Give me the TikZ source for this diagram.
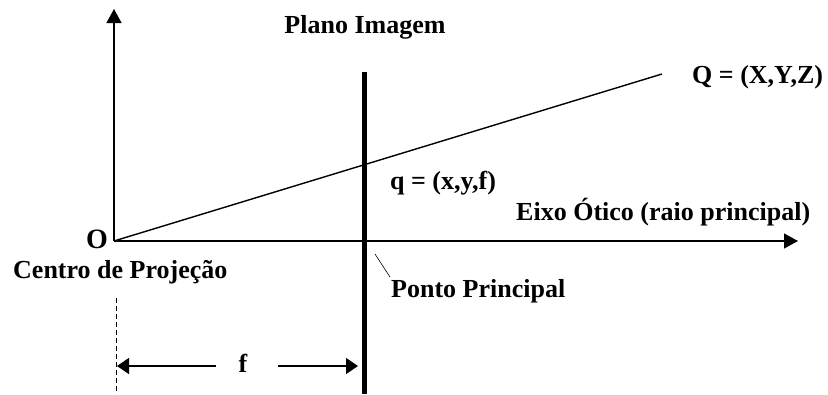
\documentclass[tikz,border=0pt]{standalone}
\usepackage{fontspec}
\setmainfont{Liberation Serif}
\usetikzlibrary{arrows.meta}
\begin{document}
\begin{tikzpicture}[x=1pt,y=-1pt,
  lbl/.style={font=\fontsize{26}{30}\selectfont\bfseries, inner sep=0pt},
  axis/.style={line width=1.3pt, -{Triangle[length=14pt,width=15pt]}},
  dim/.style={line width=1.3pt, -{Triangle[length=12pt,width=16pt]}}]
\useasboundingbox (0,0) rectangle (828,394);
\coordinate (O) at (114,241);
\coordinate (ytip) at (114,9);
\coordinate (xtip) at (798,241);
\coordinate (ptop) at (364,72);
\coordinate (pbot) at (364,394);
\coordinate (Qp) at (662,74);
\coordinate (dtop) at (116,298);
\coordinate (dbot) at (116,394);
\coordinate (ldA) at (375,254);
\coordinate (ldB) at (390,277);
% axes
\draw[axis] (O) -- (ytip);
\draw[axis] (O) -- (xtip);
% ray
\draw[line width=1.4pt] (O) -- (Qp);
% image plane
\draw[line width=5pt] (ptop) -- (pbot);
% labels
\node[lbl] (plano) at (365,27) {Plano Imagem};
\node[lbl, anchor=west] (Q) at (692,77) {Q = (X,Y,Z)};
\node[lbl, anchor=west] (q) at (390,183) {q = (x,y,f)};
\node[lbl, anchor=west] (eixo) at (516,212) {Eixo Ótico (raio principal)};
\node[lbl, font=\fontsize{28}{30}\selectfont\bfseries] (Olbl) at (97,239) {O};
\node[lbl, anchor=west] (centro) at (13,272) {Centro de Projeção};
\node[lbl, anchor=west] (ponto) at (391,291) {Ponto Principal};
\draw[line width=0.6pt] (ldA) -- (ldB);
% focal length
\draw[line width=0.8pt, dash pattern=on 5pt off 3pt] (dtop) -- (dbot);
\node[lbl] (f) at (243,363) {f};
\draw[dim] (f.west) ++(-22,3) coordinate (fl) (fl) -- (117,366);
\draw[dim] (f.east) ++(30,3) coordinate (fr) (fr) -- (358,366);
\end{tikzpicture}
\end{document}
